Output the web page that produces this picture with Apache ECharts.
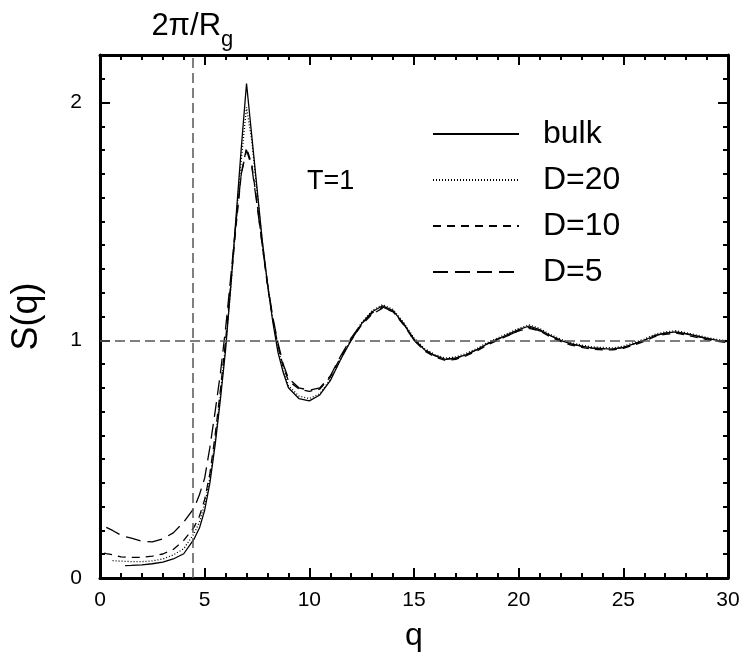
<!DOCTYPE html>
<html><head><meta charset="utf-8">
<script src="https://cdn.jsdelivr.net/npm/echarts@6/dist/echarts.min.js"></script>
<style>html,body{margin:0;padding:0;background:#fff}#c{width:746px;height:657px}</style>
</head><body><div id="c"></div>
<script>
// q grid shared by all series
const qValues = [0.2,0.3,0.6,1.0,1.2,1.5,2.0,2.5,3.0,3.5,4.0,4.5,4.75,5.0,5.25,5.5,5.75,6.0,6.25,6.5,6.75,7.0,7.25,7.5,7.75,8.0,8.25,8.5,8.75,9.0,9.5,10.0,10.5,11.0,11.5,12.0,12.5,13.0,13.5,14.0,14.5,15.0,15.5,16.0,16.5,17.0,17.5,18.0,18.5,19.0,19.5,20.0,20.5,21.0,21.5,22.0,22.5,23.0,23.5,24.0,24.5,25.0,25.5,26.0,26.5,27.0,27.5,28.0,28.5,29.0,29.5,30.0];
const bulk = [null,null,null,null,0.052,0.053,0.055,0.060,0.067,0.080,0.102,0.165,0.21,0.285,0.40,0.56,0.75,0.96,1.23,1.52,1.81,2.08,1.86,1.64,1.42,1.24,1.08,0.95,0.865,0.80,0.755,0.745,0.77,0.83,0.92,1.00,1.07,1.12,1.145,1.125,1.07,1.005,0.96,0.935,0.92,0.925,0.94,0.96,0.985,1.005,1.025,1.045,1.06,1.045,1.02,1.00,0.985,0.975,0.968,0.965,0.963,0.97,0.985,1.00,1.02,1.03,1.035,1.028,1.018,1.008,1.00,0.995];
const d20 = [null,null,0.073,0.071,0.070,0.069,0.069,0.072,0.080,0.097,0.123,0.188,0.235,0.31,0.42,0.58,0.77,0.98,1.22,1.50,1.76,1.98,1.84,1.63,1.42,1.24,1.09,0.97,0.88,0.81,0.765,0.755,0.775,0.835,0.92,1.005,1.075,1.125,1.15,1.13,1.075,1.01,0.965,0.94,0.925,0.93,0.945,0.965,0.99,1.01,1.03,1.05,1.065,1.05,1.025,1.005,0.99,0.98,0.972,0.97,0.968,0.975,0.99,1.005,1.025,1.035,1.04,1.032,1.022,1.012,1.003,0.998];
const d10 = [0.105,0.103,0.098,0.089,0.088,0.087,0.087,0.092,0.101,0.120,0.158,0.215,0.26,0.33,0.44,0.60,0.79,1.00,1.24,1.48,1.70,1.81,1.74,1.58,1.40,1.23,1.09,0.98,0.89,0.83,0.795,0.785,0.795,0.845,0.93,1.00,1.065,1.11,1.135,1.12,1.065,1.00,0.955,0.93,0.915,0.92,0.935,0.955,0.98,1.00,1.02,1.04,1.05,1.04,1.015,0.995,0.98,0.97,0.963,0.96,0.96,0.966,0.98,0.995,1.015,1.025,1.03,1.022,1.012,1.003,0.995,0.99];
const d5 = [null,0.213,0.200,0.180,0.174,0.168,0.155,0.152,0.165,0.190,0.235,0.295,0.35,0.42,0.55,0.70,0.86,1.05,1.27,1.50,1.70,1.80,1.73,1.57,1.40,1.24,1.10,0.99,0.90,0.84,0.80,0.79,0.80,0.85,0.935,1.01,1.07,1.115,1.14,1.12,1.07,1.00,0.96,0.935,0.92,0.925,0.94,0.96,0.985,1.005,1.02,1.04,1.055,1.04,1.02,1.00,0.985,0.975,0.967,0.965,0.963,0.97,0.985,1.00,1.02,1.03,1.033,1.027,1.017,1.007,0.999,0.994];
const seriesNames = ['bulk','D=20','D=10','D=5'];
const xTicks = [0,5,10,15,20,25,30];
const yTicks = [0,1,2];
const qRg = 4.41;      // 2π/Rg position
const sRef = 1;        // S(q)=1 reference

function pairs(v){ return qValues.map((q,i)=>[q,v[i]]); }

const font = 'Liberation Sans, Arial, Helvetica, sans-serif';
const chart = echarts.init(document.getElementById('c'), null, {renderer:'canvas'});
const axisCommon = {
  axisLine:{show:true,onZero:false,lineStyle:{color:'#000',width:3}},
  axisTick:{show:true,inside:true,length:10,lineStyle:{color:'#000',width:2}},
  splitLine:{show:false}
};
const lineStyles = [
  {color:'#000',width:1.3,type:'solid'},
  {color:'#000',width:1.3,type:[1,2]},
  {color:'#000',width:1.3,type:[8,6]},
  {color:'#000',width:1.3,type:[15,7]}
];
const dataSets = [bulk,d20,d10,d5];
const series = dataSets.map((d,i)=>({
  name:seriesNames[i], type:'line', data:pairs(d), symbol:'none', showSymbol:false, smooth:false,
  color:'#000', itemStyle:{color:'#000'},
  lineStyle:lineStyles[i], xAxisIndex:0, yAxisIndex:0, z:3, animation:false
}));
series[0].markLine = {
  silent:true, symbol:'none', animation:false,
  lineStyle:{color:'#555',type:[10,5],width:1.5},
  data:[
    [{coord:[qRg,0]},{coord:[qRg,2.2],label:{show:true,position:'end',distance:4,
      formatter:'{a|2π/R}{b|g}',
      rich:{a:{fontSize:31,fontFamily:font,color:'#000',lineHeight:40,verticalAlign:'top'},
            b:{fontSize:22,fontFamily:font,color:'#000',lineHeight:40,verticalAlign:'bottom',padding:[14,0,0,0]}}}}],
    [{coord:[0,sRef]},{coord:[30,sRef],label:{show:false}}]
  ],
  label:{show:false}
};
const minorX = {show:true,splitNumber:5,length:5,lineStyle:{color:'#000',width:2}};
const minorY = {show:true,splitNumber:10,length:5,lineStyle:{color:'#000',width:2}};
const option = {
  backgroundColor:'#fff',
  animation:false,
  grid:{left:100,right:18,top:55,bottom:78},
  legend:{
    data:seriesNames, orient:'vertical', left:427, top:113, itemGap:14,
    itemWidth:86, itemHeight:20,
    itemStyle:{opacity:0},
    textStyle:{fontSize:32,fontFamily:font,color:'#000',padding:[0,0,0,19]},
    selectedMode:false
  },
  xAxis:[
    Object.assign({type:'value',min:0,max:30,interval:5,position:'bottom',
      name:'q',nameLocation:'middle',nameGap:42,
      nameTextStyle:{fontSize:32,fontFamily:font,color:'#000'},
      axisLabel:{show:true,margin:12,fontSize:21,fontFamily:font,color:'#000',
        formatter:v=>xTicks.includes(v)?String(v):''}},
      axisCommon,{minorTick:minorX}),
    Object.assign({type:'value',min:0,max:30,interval:5,position:'top',axisLabel:{show:false}},
      axisCommon,{minorTick:minorX})
  ],
  yAxis:[
    Object.assign({type:'value',min:0,max:2.2,interval:1,position:'left',
      name:'S(q)',nameLocation:'middle',nameGap:55,
      nameTextStyle:{fontSize:36,fontFamily:font,color:'#000'},
      axisLabel:{show:true,margin:18,fontSize:21,fontFamily:font,color:'#000',
        formatter:v=>yTicks.includes(v)?String(v):''}},
      axisCommon,{minorTick:minorY}),
    Object.assign({type:'value',min:0,max:2.2,interval:1,position:'right',axisLabel:{show:false}},
      axisCommon,{minorTick:minorY})
  ],
  graphic:[{type:'text',left:307,top:168,style:{text:'T=1',fontSize:27,fontFamily:font,fill:'#000'}}],
  series:series
};
chart.setOption(option);
</script></body></html>
